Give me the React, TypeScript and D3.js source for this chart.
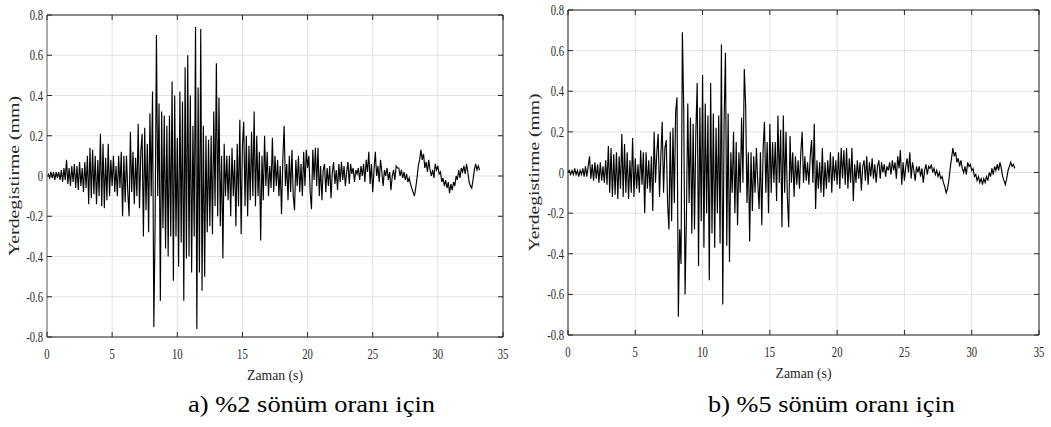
import React from "react";
import * as d3 from "d3";

// ---------- DATA ----------
const TIME_STEP = 0.1; // s between samples

const xTickValues = [0, 5, 10, 15, 20, 25, 30, 35];
const xTickLabels = ["0", "5", "10", "15", "20", "25", "30", "35"];
const yTickValues = [-0.8, -0.6, -0.4, -0.2, 0, 0.2, 0.4, 0.6, 0.8];
const yTickLabels = ["-0.8", "-0.6", "-0.4", "-0.2", "0", "0.2", "0.4", "0.6", "0.8"];

const xAxisTitle = "Zaman (s)";
const yAxisTitle = "Yerdegistirme (mm)";
const captions = ["a) %2 sönüm oranı için", "b) %5 sönüm oranı için"];

// %2 damping, displacement (mm), 0 – 10 s
const damp2_0to10 = [
  0, 0.01, -0.01, 0.02, -0.01, 0.02, -0.02, 0.02, -0.01, 0.02,
  -0.02, 0.03, -0.03, 0.04, -0.02, 0.08, -0.04, 0.04, -0.05, 0.05,
  -0.03, 0.06, -0.06, 0.05, -0.07, 0.07, -0.05, 0.04, -0.08, 0.07,
  -0.06, 0.1, -0.14, 0.14, -0.11, 0.13, -0.09, 0.1, -0.14, 0.08,
  -0.1, 0.21, -0.15, 0.16, -0.16, 0.09, -0.12, 0.16, -0.1, 0.08,
  -0.05, 0.1, -0.08, 0.05, -0.1, 0.1, -0.06, 0.12, -0.2, 0.1,
  -0.13, 0.1, -0.08, -0.2, 0.22, -0.08, 0.12, -0.14, 0.09, -0.1,
  0.26, -0.16, 0.12, 0.21, -0.3, 0.24, -0.17, 0.16, -0.28, 0.31,
  -0.1, 0.42, -0.75, -0.23, 0.7, -0.1, 0.36, -0.62, 0.32, -0.26,
  0.3, -0.36, 0.25, -0.4, 0.3, -0.3, 0.47, -0.52, 0.4, -0.3,
];
// %2 damping, 10 – 20 s
const damp2_10to20 = [
  0.19, -0.45, 0.42, -0.33, 0.37, -0.62, 0.54, -0.41, 0.6, -0.4,
  0.4, -0.48, 0.25, -0.3, 0.74, -0.76, 0.44, -0.48, 0.73, -0.57,
  0.25, -0.5, 0.2, -0.28, 0.18, -0.25, 0.2, -0.29, 0.32, -0.15,
  0.56, -0.2, 0.39, -0.25, 0.1, -0.41, 0.16, -0.1, 0.1, -0.12,
  0.1, -0.2, 0.14, -0.1, 0.08, -0.25, 0.16, -0.15, 0.28, -0.29,
  0.15, 0.27, -0.15, 0.2, -0.2, 0.15, -0.12, 0.22, -0.1, 0.32,
  -0.15, 0.2, -0.1, 0.12, -0.32, 0.1, -0.12, 0.2, -0.05, 0.12,
  -0.1, 0.05, -0.06, 0.19, -0.08, 0.1, -0.05, 0.08, -0.1, 0.05,
  -0.19, 0.08, 0.25, -0.05, 0.06, -0.12, 0.1, -0.08, 0.13, -0.1,
  -0.17, 0.08, -0.05, 0.1, -0.08, 0.06, -0.1, 0.12, -0.05, 0.13,
];
// %2 damping, 20 – 33.2 s
const damp2_20to33 = [
  0.04, 0.1, -0.08, -0.165, 0.13, -0.02, 0.14, -0.05, 0.14, -0.1,
  0.05, -0.12, 0.03, 0.06, -0.08, 0.04, -0.05, 0.05, -0.11, 0.02,
  0.07, -0.04, 0.03, -0.07, 0.06, -0.03, 0.07, -0.02, 0.05, -0.05,
  0.02, 0.07, -0.04, 0.06, 0.01, 0.04, -0.03, 0.03, 0.01, 0.04,
  -0.02, 0.05, 0.0, 0.06, -0.03, 0.08, 0.02, 0.12, -0.04, 0.06,
  -0.08, 0.03, 0.12, 0.0, 0.05, -0.03, 0.08, 0.02, -0.05, 0.03,
  0.0, 0.04, -0.02, 0.02, -0.07, 0.0, 0.03, -0.02, 0.05, 0.04,
  0.04, 0.0, 0.03, -0.01, 0.02, -0.02, 0.01, -0.03, -0.01, -0.04,
  -0.06, -0.08, -0.1, -0.06, -0.01, 0.05, 0.08, 0.13, 0.08, 0.11,
  0.04, 0.07, 0.02, 0.08, 0.03, 0.0, 0.03, -0.01, 0.06, 0.03,
  0.05, 0.01, 0.02, -0.03, -0.01, -0.05, -0.02, -0.06, -0.03, -0.085,
  -0.04, -0.07, -0.03, -0.05, 0.0, -0.02, 0.03, -0.01, 0.04, 0.02,
  0.05, 0.01, 0.06, 0.02, -0.03, -0.05, -0.06, -0.02, 0.03, 0.06,
  0.03, 0.05, 0.03,
];

// %5 damping, 0 – 10 s
const damp5_0to10 = [
  0, 0.01, -0.01, 0.01, -0.01, 0.02, -0.01, 0.01, -0.02, 0.01,
  -0.01, 0.02, -0.02, 0.03, -0.02, 0.03, 0.08, -0.03, 0.04, -0.04,
  0.05, -0.03, 0.04, -0.05, 0.05, -0.04, 0.03, -0.05, 0.06, -0.06,
  0.13, -0.1, 0.12, -0.12, 0.09, -0.11, 0.1, -0.13, 0.08, -0.08,
  0.19, -0.12, 0.14, -0.1, 0.1, -0.13, 0.06, -0.1, 0.17, -0.12,
  0.07, -0.08, 0.04, -0.1, 0.11, -0.06, 0.1, -0.2, 0.1, -0.08,
  0.06, -0.1, 0.08, -0.19, 0.2, -0.05, 0.1, 0.19, -0.12, 0.08,
  0.25, -0.1, 0.12, 0.16, -0.15, -0.28, 0.2, -0.24, 0.22, -0.15,
  0.3, 0.37, -0.71, -0.28, -0.45, 0.69, 0.31, -0.6, -0.22, 0.34,
  -0.15, 0.27, -0.3, 0.24, -0.28, 0.2, 0.44, -0.46, 0.32, -0.24,
];
// %5 damping, 10 – 20 s
const damp5_10to20 = [
  0.48, -0.37, 0.34, -0.2, 0.28, -0.53, 0.44, -0.3, 0.29, -0.37,
  0.22, -0.2, 0.28, -0.35, 0.63, -0.65, 0.25, 0.59, -0.36, 0.29,
  -0.44, 0.1, -0.1, 0.2, -0.2, 0.15, -0.26, 0.1, -0.1, 0.27,
  -0.05, 0.51, 0.33, -0.15, 0.1, -0.34, 0.1, -0.19, 0.08, -0.1,
  0.12, -0.05, -0.18, 0.1, -0.26, 0.12, 0.25, -0.1, 0.15, -0.2,
  0.24, -0.1, 0.15, -0.05, 0.15, -0.14, 0.28, -0.05, 0.21, -0.27,
  0.28, -0.1, 0.2, -0.12, -0.27, 0.18, -0.05, 0.1, -0.12, 0.08,
  -0.06, 0.06, -0.08, 0.1, 0.2, -0.05, 0.08, -0.04, 0.05, -0.06,
  0.08, 0.16, -0.05, 0.24, -0.18, 0.06, -0.08, 0.05, -0.1, 0.12,
  -0.12, 0.05, -0.08, 0.06, -0.05, 0.1, -0.1, 0.08, -0.04, 0.06,
];
// %5 damping, 20 – 33.2 s
const damp5_20to33 = [
  -0.06, 0.1, -0.08, 0.12, -0.03, 0.11, -0.06, 0.12, -0.08, 0.07,
  -0.05, 0.12, -0.14, 0.04, -0.05, 0.06, -0.03, 0.05, -0.09, 0.03,
  0.06, -0.04, 0.08, -0.06, 0.05, -0.02, 0.07, -0.03, 0.04, -0.05,
  0.03, 0.06, -0.03, 0.05, 0.0, 0.04, -0.02, 0.03, 0.01, 0.05,
  -0.01, 0.06, 0.01, 0.05, -0.03, 0.08, 0.02, 0.11, -0.06, 0.05,
  -0.04, 0.03, 0.07, 0.0, 0.1, -0.03, 0.05, 0.01, -0.04, 0.03,
  0.0, 0.03, -0.02, 0.02, -0.05, 0.01, 0.04, -0.01, 0.03, 0.02,
  0.04, 0.0, 0.02, -0.01, 0.01, -0.02, 0.0, -0.03, -0.02, -0.05,
  -0.07, -0.1, -0.08, -0.04, 0.02, 0.07, 0.12, 0.08, 0.1, 0.05,
  0.07, 0.03, 0.06, 0.02, 0.0, 0.03, -0.01, 0.05, 0.03, 0.04,
  0.01, 0.02, -0.02, -0.01, -0.04, -0.02, -0.05, -0.03, -0.06, -0.03,
  -0.05, -0.02, -0.04, 0.0, -0.02, 0.02, -0.01, 0.03, 0.01, 0.04,
  0.01, 0.05, 0.02, -0.02, -0.04, -0.06, -0.03, 0.01, 0.03, 0.05,
  0.03, 0.04, 0.02,
];

const damp2 = [...damp2_0to10, ...damp2_10to20, ...damp2_20to33];
const damp5 = [...damp5_0to10, ...damp5_10to20, ...damp5_20to33];

// ---------- LAYOUT / STYLE ----------
const W = 1051;
const H = 427;
const FONT = "Liberation Serif, Tinos, Times New Roman, DejaVu Serif, serif";
const AXIS_COLOR = "#262626";
const GRID_COLOR = "#e3e3e3";
const TICK_LEN = 5;
const TICK_SCALE_X = 0.76;
const TICK_FONT = 14;

type PanelCfg = {
  values: number[];
  left: number;
  right: number;
  top: number;
  bottom: number;
  yTitleX: number;
  yTitleLen: number;
  caption: string;
  captionX: number;
  captionY: number;
  leftAxisColor: string;
};

const panels: PanelCfg[] = [
  {
    values: damp2,
    left: 47,
    right: 503,
    top: 15,
    bottom: 337,
    yTitleX: 19,
    yTitleLen: 160,
    caption: captions[0],
    captionX: 188,
    captionY: 412,
    leftAxisColor: "#9a9a9a",
  },
  {
    values: damp5,
    left: 568,
    right: 1039,
    top: 10,
    bottom: 335,
    yTitleX: 539,
    yTitleLen: 158,
    caption: captions[1],
    captionX: 708,
    captionY: 412,
    leftAxisColor: AXIS_COLOR,
  },
];

function Panel({ cfg }: { cfg: PanelCfg }) {
  const x = d3.scaleLinear().domain([0, 35]).range([cfg.left, cfg.right]);
  const y = d3.scaleLinear().domain([-0.8, 0.8]).range([cfg.bottom, cfg.top]);
  const line = d3
    .line<number>()
    .x((_, i) => x(i * TIME_STEP))
    .y((d) => y(d));
  const cx = (cfg.left + cfg.right) / 2;
  const cy = (cfg.top + cfg.bottom) / 2;
  const textStyle = { fontFamily: FONT };
  return (
    <g>
      {xTickValues.map((t) => (
        <line key={"gx" + t} x1={x(t)} x2={x(t)} y1={cfg.top} y2={cfg.bottom} stroke={GRID_COLOR} strokeWidth={1} />
      ))}
      {yTickValues.map((t) => (
        <line key={"gy" + t} x1={cfg.left} x2={cfg.right} y1={y(t)} y2={y(t)} stroke={GRID_COLOR} strokeWidth={1} />
      ))}
      <path d={line(cfg.values) || ""} fill="none" stroke="#000" strokeWidth={1.15} />
      <line x1={cfg.left} x2={cfg.right} y1={cfg.top} y2={cfg.top} stroke={AXIS_COLOR} />
      <line x1={cfg.left} x2={cfg.right} y1={cfg.bottom} y2={cfg.bottom} stroke={AXIS_COLOR} />
      <line x1={cfg.right} x2={cfg.right} y1={cfg.top} y2={cfg.bottom} stroke={AXIS_COLOR} />
      <line x1={cfg.left} x2={cfg.left} y1={cfg.top} y2={cfg.bottom} stroke={cfg.leftAxisColor} strokeWidth={cfg.leftAxisColor === AXIS_COLOR ? 1 : 1.6} />
      {xTickValues.map((t) => (
        <g key={"tx" + t}>
          <line x1={x(t)} x2={x(t)} y1={cfg.bottom} y2={cfg.bottom - TICK_LEN} stroke={AXIS_COLOR} />
          <line x1={x(t)} x2={x(t)} y1={cfg.top} y2={cfg.top + TICK_LEN} stroke={AXIS_COLOR} />
        </g>
      ))}
      {yTickValues.map((t) => (
        <g key={"ty" + t}>
          <line x1={cfg.left} x2={cfg.left + TICK_LEN} y1={y(t)} y2={y(t)} stroke={AXIS_COLOR} />
          <line x1={cfg.right} x2={cfg.right - TICK_LEN} y1={y(t)} y2={y(t)} stroke={AXIS_COLOR} />
        </g>
      ))}
      {xTickValues.map((t, i) => (
        <text
          key={"lx" + t}
          transform={`translate(${x(t)},${cfg.bottom + 22}) scale(${TICK_SCALE_X},1)`}
          textAnchor="middle"
          style={textStyle}
          fontSize={TICK_FONT}
          fill={AXIS_COLOR}
        >
          {xTickLabels[i]}
        </text>
      ))}
      {yTickValues.map((t, i) => (
        <text
          key={"ly" + t}
          transform={`translate(${cfg.left - 4},${y(t) + 5}) scale(${TICK_SCALE_X},1)`}
          textAnchor="end"
          style={textStyle}
          fontSize={TICK_FONT}
          fill={AXIS_COLOR}
        >
          {yTickLabels[i]}
        </text>
      ))}
      <text x={cx} y={cfg.bottom + 43} textAnchor="middle" style={textStyle} fontSize={14} fill={AXIS_COLOR} textLength={56} lengthAdjust="spacingAndGlyphs">
        {xAxisTitle}
      </text>
      <text
        transform={`translate(${cfg.yTitleX},${cy}) rotate(-90)`}
        x={0}
        y={0}
        textAnchor="middle"
        style={textStyle}
        fontSize={14}
        fill={AXIS_COLOR}
        textLength={cfg.yTitleLen}
        lengthAdjust="spacingAndGlyphs"
      >
        {yAxisTitle}
      </text>
      <text x={cfg.captionX} y={cfg.captionY} style={textStyle} fontSize={23} fill="#000" textLength={247} lengthAdjust="spacingAndGlyphs">
        {cfg.caption}
      </text>
    </g>
  );
}

export default function App() {
  return (
    <div style={{ position: "absolute", left: 0, top: 0, width: W, height: H, background: "#fff" }}>
      <svg width={W} height={H} viewBox={`0 0 ${W} ${H}`} style={{ display: "block" }}>
        <rect x={0} y={0} width={W} height={H} fill="#fff" />
        {panels.map((p, i) => (
          <Panel key={i} cfg={p} />
        ))}
      </svg>
    </div>
  );
}
